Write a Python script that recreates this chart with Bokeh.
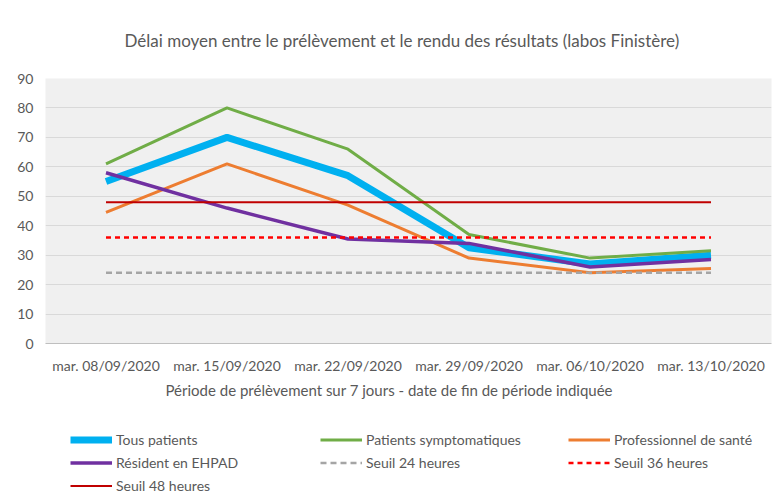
from bokeh.plotting import figure
from bokeh.models import Range1d, FactorRange, FixedTicker, Legend, LegendItem, Title
from bokeh.layouts import column
from bokeh.embed import file_html
from bokeh.resources import INLINE

categories = ["mar. 08/09/2020", "mar. 15/09/2020", "mar. 22/09/2020",
              "mar. 29/09/2020", "mar. 06/10/2020", "mar. 13/10/2020"]
tous_patients = [55, 70, 57, 32.5, 27, 30]
patients_sympto = [61, 80, 66, 37, 29, 31.5]
pro_sante = [44.5, 61, 47, 29, 24, 25.5]
ehpad = [58, 46, 35.5, 34, 26, 28.5]
seuil_24 = [24] * 6
seuil_36 = [36] * 6
seuil_48 = [48] * 6
y_ticks = [0, 10, 20, 30, 40, 50, 60, 70, 80, 90]

FONT = "Lato"
TXT = "#595959"

styles = {
    "tous": dict(line_color="#00b0f0", line_width=7),
    "sym": dict(line_color="#70ad47", line_width=3),
    "pro": dict(line_color="#ed7d31", line_width=3),
    "ehp": dict(line_color="#7030a0", line_width=3.5),
    "s24": dict(line_color="#a5a5a5", line_width=2.5, line_dash="6 4"),
    "s36": dict(line_color="#ff0000", line_width=2.5, line_dash="5 4"),
    "s48": dict(line_color="#c00000", line_width=2),
}

p = figure(width=775, height=420, x_range=FactorRange(*categories), y_range=Range1d(0, 90),
           output_backend="svg", toolbar_location=None,
           min_border_left=45, min_border_right=4, min_border_top=77, min_border_bottom=77)
p.background_fill_color = "#f0f0f0"
p.border_fill_color = "white"
p.outline_line_color = None

p.title = Title(text="Délai moyen entre le prélèvement et le rendu des résultats (labos Finistère)",
                align="left", text_font=FONT, text_font_size="17px", text_font_style="normal",
                text_color=TXT, standoff=55, offset=79)

p.line(categories, tous_patients, **styles["tous"])
p.line(categories, patients_sympto, **styles["sym"])
p.line(categories, pro_sante, **styles["pro"])
p.line(categories, ehpad, **styles["ehp"])
p.line(categories, seuil_24, **styles["s24"])
p.line(categories, seuil_36, **styles["s36"])
p.line(categories, seuil_48, **styles["s48"])

p.xgrid.grid_line_color = None
p.ygrid.grid_line_color = "#d9d9d9"
p.ygrid.ticker = FixedTicker(ticks=y_ticks)
p.yaxis.ticker = FixedTicker(ticks=y_ticks)
p.yaxis.axis_line_color = None
p.yaxis.major_tick_line_color = None
p.yaxis.major_tick_out = 0
p.yaxis.minor_tick_line_color = None
p.yaxis.major_label_standoff = 12
p.yaxis.major_label_text_font = FONT
p.yaxis.major_label_text_font_size = "14px"
p.yaxis.major_label_text_color = TXT

p.xaxis.axis_line_color = "#bfbfbf"
p.xaxis.major_tick_line_color = None
p.xaxis.major_tick_out = 0
p.xaxis.minor_tick_line_color = None
p.xaxis.major_label_standoff = 13
p.xaxis.major_label_text_font = FONT
p.xaxis.major_label_text_font_size = "14px"
p.xaxis.major_label_text_color = TXT

p.add_layout(Title(text="Période de prélèvement sur 7 jours - date de fin de période indiquée",
                   align="left", text_font=FONT, text_font_size="15px", text_font_style="normal",
                   text_color=TXT, standoff=4, offset=120), "below")

# legend strip below the chart
lf = figure(width=775, height=72, x_range=Range1d(0, 1), y_range=Range1d(0, 1),
            output_backend="svg", toolbar_location=None,
            min_border_left=0, min_border_right=0, min_border_top=0, min_border_bottom=0)
lf.axis.visible = False
lf.grid.visible = False
lf.outline_line_color = None
lf.background_fill_color = "white"
lf.border_fill_color = "white"

# legend-only renderers, kept outside the visible range of this strip
dummy = {k: lf.line(x=[5, 6], y=[5, 6], **v) for k, v in styles.items()}


def make_legend(items, x, y):
    lg = Legend(items=items, location=(x, y), orientation="vertical",
                glyph_width=42, glyph_height=21, label_height=21, label_standoff=4,
                spacing=2, padding=0, margin=0,
                label_text_font=FONT, label_text_font_size="14px", label_text_color=TXT,
                border_line_color=None, background_fill_alpha=0)
    lf.add_layout(lg, "center")


make_legend([LegendItem(label="Tous patients", renderers=[dummy["tous"]]),
             LegendItem(label="Résident en EHPAD", renderers=[dummy["ehp"]]),
             LegendItem(label="Seuil 48 heures", renderers=[dummy["s48"]])], 25, -4)
make_legend([LegendItem(label="Patients symptomatiques", renderers=[dummy["sym"]]),
             LegendItem(label="Seuil 24 heures", renderers=[dummy["s24"]])], 275, 19)
make_legend([LegendItem(label="Professionnel de santé", renderers=[dummy["pro"]]),
             LegendItem(label="Seuil 36 heures", renderers=[dummy["s36"]])], 523, 19)

layout = column(p, lf, spacing=0)
open("out.html", "w").write(file_html(layout, INLINE))
